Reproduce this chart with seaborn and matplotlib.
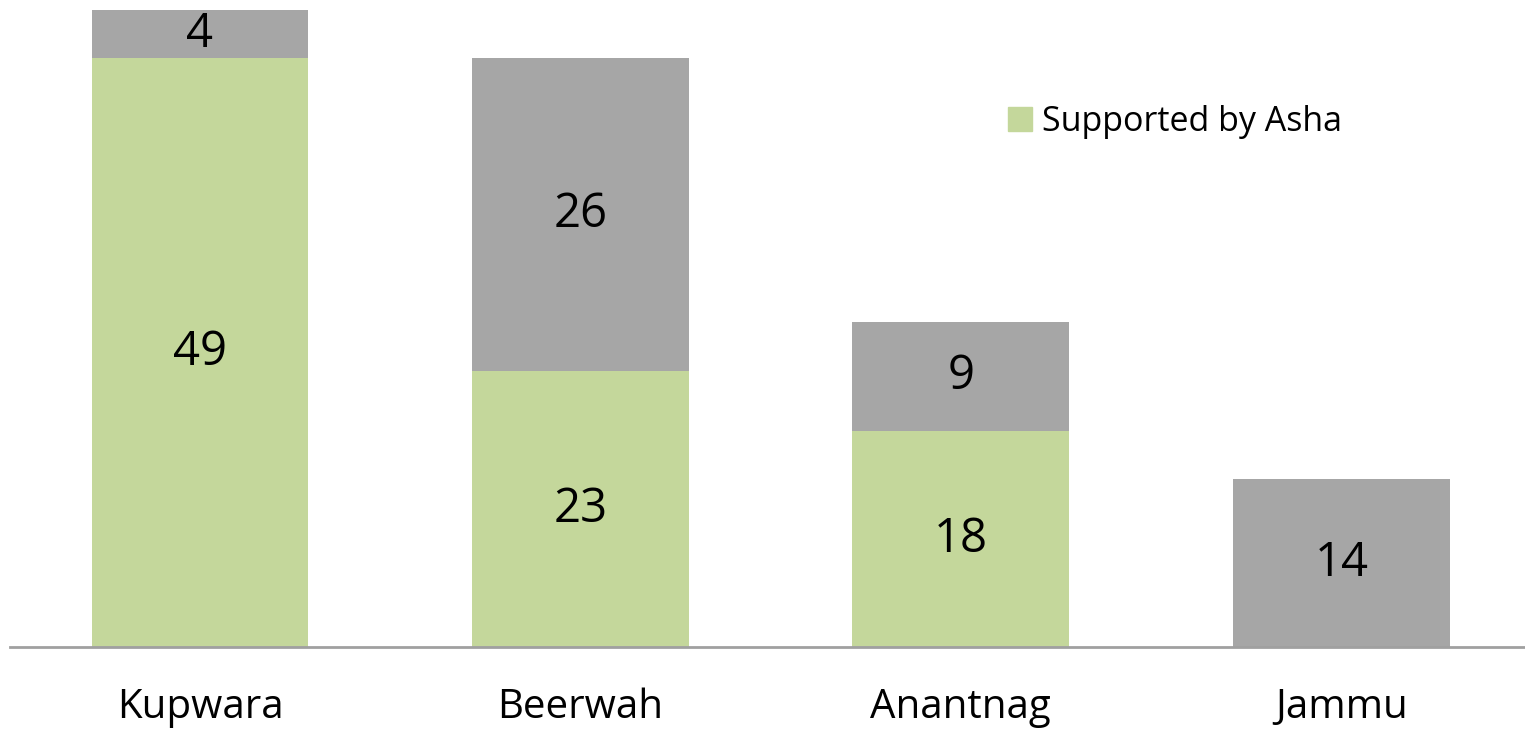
import seaborn as sns
import pandas as pd
import matplotlib.pyplot as plt
from matplotlib.patches import Patch

districts = ["Kupwara", "Beerwah", "Anantnag", "Jammu"]
supported = [49, 23, 18, 0]
not_supported = [4, 26, 9, 14]

GREEN = "#C4D79B"
GREY = "#A6A6A6"

df = pd.DataFrame({"district": districts, "supported": supported, "other": not_supported})
df["total"] = df["supported"] + df["other"]

sns.set_style("white")
plt.rcParams["font.family"] = ["Open Sans", "DejaVu Sans"]

fig = plt.figure(figsize=(15.25, 7.3), dpi=100)
ax = fig.add_axes([10 / 1525, 83 / 730, 1515 / 1525, 637 / 730])

sns.barplot(data=df, x="district", y="total", color=GREY, saturation=1, width=0.57,
            linewidth=0, ax=ax)
sns.barplot(data=df, x="district", y="supported", color=GREEN, saturation=1, width=0.57,
            linewidth=0, ax=ax)

for i, row in df.iterrows():
    if row["supported"] > 0:
        ax.text(i, row["supported"] / 2, str(row["supported"]), ha="center", va="center",
                fontsize=34, color="black")
    ax.text(i, row["supported"] + row["other"] / 2, str(row["other"]), ha="center",
            va="center", fontsize=34, color="black")

ax.set_xlim(-0.4993, 3.483)
ax.set_ylim(0, 53)
ax.set_xlabel("")
ax.set_ylabel("")
ax.set_yticks([])
ax.tick_params(axis="x", length=0, labelsize=29, pad=29, labelcolor="black")
for s in ["top", "right", "left"]:
    ax.spines[s].set_visible(False)
ax.spines["bottom"].set_color("#A0A0A0")
ax.spines["bottom"].set_linewidth(2)

leg = ax.legend(handles=[Patch(color=GREEN, label="Supported by Asha")], loc="center left",
                bbox_to_anchor=(1008 / 1525, 608 / 730), bbox_transform=fig.transFigure,
                frameon=False, fontsize=24.5, handlelength=0.71, handleheight=0.71,
                handletextpad=0.3, borderpad=0, borderaxespad=0)
for t in leg.get_texts():
    t.set_color("black")

fig.savefig("out.png", dpi=100)
